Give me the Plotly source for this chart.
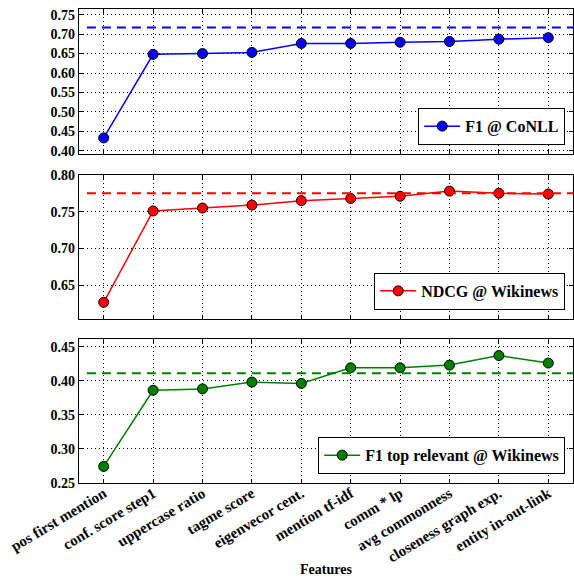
import plotly.graph_objects as go
from plotly.subplots import make_subplots

features = ["pos first mention", "conf. score step1", "uppercase ratio", "tagme score",
            "eigenvecor cent.", "mention tf-idf", "comm * lp", "avg commonness",
            "closeness graph exp.", "entity in-out-link"]

f1_conll = [0.433, 0.648, 0.650, 0.653, 0.676, 0.676, 0.679, 0.681, 0.687, 0.691]
f1_conll_base = 0.717
ndcg_wiki = [0.627, 0.751, 0.755, 0.759, 0.765, 0.768, 0.771, 0.778, 0.775, 0.774]
ndcg_wiki_base = 0.775
f1_top_wiki = [0.274, 0.386, 0.388, 0.398, 0.396, 0.419, 0.419, 0.423, 0.437, 0.426]
f1_top_wiki_base = 0.411

series = [
    ("F1 @ CoNLL", f1_conll, f1_conll_base, "#0000ff", [0.3915, 0.7647],
     [0.40, 0.45, 0.50, 0.55, 0.60, 0.65, 0.70, 0.75]),
    ("NDCG @ Wikinews", ndcg_wiki, ndcg_wiki_base, "#ff0000", [0.6047, 0.80],
     [0.65, 0.70, 0.75, 0.80]),
    ("F1 top relevant @ Wikinews", f1_top_wiki, f1_top_wiki_base, "#008000", [0.2496, 0.4618],
     [0.25, 0.30, 0.35, 0.40, 0.45]),
]

FONT = "Liberation Serif"

fig = make_subplots(rows=3, cols=1, shared_xaxes=True, vertical_spacing=0.04)

domains = [[0.694, 1.0], [0.3466, 0.650], [0.0, 0.3044]]
legend_y = [0.713, 0.3655, 0.0189]
legend_names = ["legend", "legend2", "legend3"]

xs = list(range(len(features)))

for i, (name, vals, base, color, yr, ytv) in enumerate(series):
    row = i + 1
    fig.add_trace(go.Scatter(
        x=xs, y=vals, mode="lines+markers", name=name,
        line=dict(color=color, width=1.5),
        marker=dict(size=10, color=color, line=dict(color="black", width=1)),
        legend=legend_names[i], showlegend=True,
    ), row=row, col=1)
    yref = "y" if i == 0 else f"y{row}"
    fig.add_shape(type="line", xref=("x" if i == 0 else f"x{row}") + " domain", yref=yref,
                  x0=0.016, x1=1.0, y0=base, y1=base,
                  line=dict(color=color, width=2, dash="9px,6px"))
    fig.update_yaxes(range=yr, tickvals=ytv, tickformat=".2f", row=row, col=1,
                     domain=domains[i])
    fig.update_layout(**{legend_names[i]: dict(
        x=0.9838, y=legend_y[i], xanchor="right", yanchor="bottom",
        bgcolor="white", bordercolor="black", borderwidth=1.2,
        font=dict(family=FONT, size=16, color="black", weight="bold"),
        itemwidth=36, tracegroupgap=0,
    )})

axis_common = dict(
    showline=True, linecolor="black", linewidth=1.2, mirror="allticks",
    ticks="inside", ticklen=4, tickcolor="black", tickwidth=1,
    showgrid=True, gridcolor="black", gridwidth=0.8, griddash="1px,3px",
    zeroline=False, automargin=False,
    tickfont=dict(family=FONT, size=14, color="black", weight="bold"),
)
fig.update_xaxes(**axis_common, range=[-0.5, 9.5], tickvals=xs, ticktext=features)
fig.update_yaxes(**axis_common)
fig.update_xaxes(showticklabels=False, row=1, col=1)
fig.update_xaxes(showticklabels=False, row=2, col=1)
fig.update_xaxes(tickangle=-31, row=3, col=1, ticklabelstandoff=-5,
                 tickfont=dict(family=FONT, size=15, color="black", weight="bold"))

fig.add_annotation(text="Features", xref="paper", yref="paper", x=0.5, y=-0.1835,
                   xanchor="center", yanchor="middle", showarrow=False,
                   font=dict(family=FONT, size=14, color="black", weight="bold"))

fig.update_layout(
    width=574, height=579,
    margin=dict(l=79, r=1, t=9, b=96),
    paper_bgcolor="white", plot_bgcolor="white",
    font=dict(family=FONT, color="black"),
)

fig.write_html("out.html", config={"displayModeBar": False},
               post_script="document.body.style.margin='0';document.body.style.overflow='hidden';")
